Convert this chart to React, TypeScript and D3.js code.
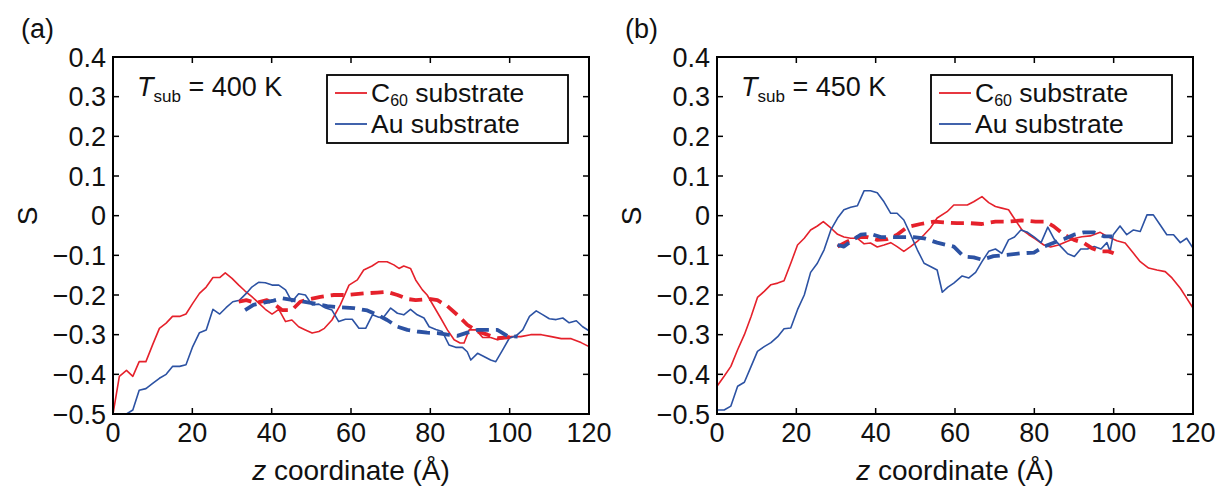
import React from "react";
import * as d3 from "d3";

// ---------- data ----------
const yTicks = [0.4, 0.3, 0.2, 0.1, 0, -0.1, -0.2, -0.3, -0.4, -0.5];
const xTicks = [0, 20, 40, 60, 80, 100, 120];
const panelLabels = ["(a)", "(b)"];
const tempLabels = ["400 K", "450 K"];
const legendLabels = ["substrate", "Au substrate"];

// Panel (a) T = 400 K
const zA_c60 = [0, 1.6, 3.4, 5, 6.6, 8.3, 10, 11.7, 13.4, 15, 16.8, 18.4, 20.1, 21.8, 23.5, 25.2, 26.9, 28.3, 30, 31.7, 33.3, 35, 36.7, 38.4, 40.1, 41.8, 43.5, 45.1, 46.8, 48.5, 50.2, 51.9, 53.3, 55.2, 57.3, 59.5, 61.6, 63.2, 65.3, 67, 69.1, 70.8, 72.1, 73.3, 75, 76.3, 78, 79.2, 80.9, 82.6, 84.3, 86, 87.5, 88.5, 89.8, 91.5, 93.2, 95.2, 96.9, 98.6, 100.3, 102.8, 105.3, 108, 110.5, 113, 115.5, 118, 120];
const sA_c60 = [-0.5, -0.405, -0.39, -0.405, -0.368, -0.368, -0.325, -0.284, -0.271, -0.254, -0.254, -0.248, -0.221, -0.196, -0.18, -0.156, -0.156, -0.144, -0.158, -0.175, -0.19, -0.204, -0.22, -0.236, -0.248, -0.236, -0.267, -0.263, -0.28, -0.288, -0.296, -0.292, -0.284, -0.263, -0.225, -0.175, -0.162, -0.137, -0.127, -0.116, -0.116, -0.124, -0.133, -0.127, -0.133, -0.162, -0.187, -0.2, -0.229, -0.258, -0.288, -0.313, -0.321, -0.321, -0.288, -0.288, -0.307, -0.307, -0.313, -0.309, -0.305, -0.305, -0.3, -0.3, -0.305, -0.31, -0.31, -0.32, -0.33];

const zA_au = [0, 3.4, 5, 6.6, 8.3, 10, 11.7, 13.4, 15, 16.8, 18.4, 20.1, 21.8, 23.5, 25.2, 26.9, 28.5, 30.2, 31.9, 33.6, 35, 36.7, 38.4, 40.1, 41.8, 43.5, 45.1, 46.8, 48.5, 50.2, 51.9, 53.6, 55.2, 56.9, 58.6, 60.3, 62, 63.7, 65.4, 67, 68.3, 70, 71.7, 73.3, 75, 76.7, 78.4, 79.7, 81.4, 83, 84.7, 86.4, 88.1, 89.3, 90.2, 91.9, 93.5, 95.2, 96.5, 98.2, 99.9, 101.6, 103.3, 105, 106.7, 108.4, 110, 111.7, 113.4, 115, 116.8, 118.4, 120];
const sA_au = [-0.5, -0.5, -0.49, -0.44, -0.436, -0.423, -0.41, -0.4, -0.38, -0.38, -0.376, -0.33, -0.295, -0.288, -0.236, -0.248, -0.232, -0.217, -0.213, -0.196, -0.18, -0.168, -0.169, -0.175, -0.175, -0.187, -0.217, -0.197, -0.2, -0.225, -0.223, -0.233, -0.238, -0.267, -0.261, -0.261, -0.284, -0.284, -0.25, -0.256, -0.255, -0.233, -0.246, -0.25, -0.236, -0.25, -0.258, -0.28, -0.287, -0.292, -0.326, -0.332, -0.332, -0.343, -0.364, -0.347, -0.355, -0.364, -0.368, -0.339, -0.309, -0.303, -0.288, -0.254, -0.24, -0.25, -0.26, -0.262, -0.258, -0.27, -0.265, -0.28, -0.29];

const zA_c60Avg = [31.7, 33.6, 36.1, 38.8, 40.9, 42.6, 45.1, 47.2, 49.8, 52.3, 55.7, 59, 63.3, 66.6, 69.1, 71.7, 74.2, 76.3, 79.7, 81.8, 84.3, 86.8, 89.3, 91.9, 94.4, 96.9, 99.4, 100.5];
const sA_c60Avg = [-0.217, -0.213, -0.22, -0.213, -0.225, -0.238, -0.238, -0.217, -0.21, -0.205, -0.2, -0.2, -0.196, -0.194, -0.192, -0.2, -0.21, -0.213, -0.21, -0.213, -0.228, -0.25, -0.275, -0.292, -0.3, -0.309, -0.307, -0.305];

const zA_auAvg = [33.3, 35.4, 38, 40.5, 42.6, 45.5, 48, 50.6, 54, 57.3, 60.7, 64.1, 66.6, 69.1, 71.7, 74.2, 76.7, 79.2, 81.8, 84.3, 86.8, 89.3, 91.9, 94.4, 96.9, 99.4, 102];
const sA_auAvg = [-0.238, -0.225, -0.219, -0.214, -0.208, -0.213, -0.217, -0.221, -0.228, -0.231, -0.233, -0.239, -0.25, -0.263, -0.28, -0.288, -0.292, -0.295, -0.296, -0.3, -0.303, -0.295, -0.288, -0.288, -0.288, -0.303, -0.305];

// Panel (b) T = 450 K
const zB_c60 = [0, 1.8, 3.5, 5.2, 6.9, 8.6, 10.2, 11.9, 13.6, 15.3, 16.9, 18.6, 20.3, 22, 23.6, 25.3, 26.8, 28.7, 30.4, 32, 33.7, 35.4, 37.1, 38.7, 40.4, 42.1, 43.8, 45.4, 47.1, 48.8, 50.5, 52.2, 53.8, 55.5, 58, 59.7, 61.4, 63.1, 64.7, 66.8, 68.5, 70.2, 71.8, 73.5, 75.2, 76.9, 78.6, 80.3, 82.4, 84.1, 86.1, 88.2, 90.3, 92, 94.1, 96.6, 98.7, 100.8, 102.9, 105, 106.7, 108.8, 110.9, 113, 114.7, 116.8, 118.4, 120];
const sB_c60 = [-0.43, -0.405, -0.38, -0.338, -0.3, -0.254, -0.206, -0.191, -0.174, -0.17, -0.164, -0.12, -0.074, -0.057, -0.036, -0.026, -0.015, -0.031, -0.047, -0.054, -0.057, -0.057, -0.071, -0.069, -0.079, -0.074, -0.068, -0.078, -0.09, -0.078, -0.065, -0.048, -0.031, -0.006, 0.01, 0.027, 0.027, 0.027, 0.035, 0.048, 0.033, 0.023, 0.019, 0.015, -0.011, -0.036, -0.048, -0.059, -0.074, -0.079, -0.074, -0.065, -0.057, -0.053, -0.051, -0.042, -0.054, -0.063, -0.069, -0.095, -0.116, -0.132, -0.137, -0.141, -0.157, -0.183, -0.208, -0.233];

const zB_au = [0, 1.8, 3.5, 5.2, 6.9, 8.6, 10.2, 11.9, 13.6, 15.3, 16.9, 18.6, 20.3, 22, 23.6, 25.3, 27, 28.7, 30.4, 32, 33.7, 35.4, 37.1, 38.7, 40.4, 42.1, 43.8, 45.4, 47.1, 48.8, 50.5, 52.2, 53.8, 55.5, 56.8, 58.2, 59.7, 61.8, 63.5, 65.2, 66.8, 68.5, 70.2, 71.8, 73.5, 75, 76.6, 78.3, 80, 81.7, 83.4, 85, 86.7, 88.4, 90.1, 91.7, 93.4, 95.1, 96.8, 98.3, 99.1, 99.9, 101.6, 103.3, 105, 106.7, 108.4, 110, 111.7, 113.4, 115.1, 116.8, 118.4, 120];
const sB_au = [-0.49, -0.49, -0.48, -0.43, -0.42, -0.38, -0.342, -0.33, -0.32, -0.305, -0.285, -0.283, -0.237, -0.2, -0.143, -0.12, -0.086, -0.036, -0.006, 0.015, 0.021, 0.025, 0.063, 0.063, 0.058, 0.035, 0.006, 0.006, -0.011, -0.048, -0.086, -0.12, -0.128, -0.137, -0.193, -0.18, -0.17, -0.152, -0.157, -0.143, -0.116, -0.09, -0.084, -0.095, -0.061, -0.054, -0.036, -0.042, -0.054, -0.068, -0.029, -0.059, -0.078, -0.096, -0.103, -0.084, -0.084, -0.078, -0.084, -0.068, -0.09, -0.048, -0.026, -0.048, -0.036, -0.04, 0.002, 0.002, -0.023, -0.048, -0.048, -0.068, -0.057, -0.082];

const zB_c60Avg = [30.4, 32.9, 35.4, 37.9, 40.4, 42.9, 45.4, 47.9, 51.3, 54.7, 57.2, 60.5, 63.9, 66.8, 70.2, 73.5, 76.9, 80.3, 82.8, 84.9, 87.5, 90, 92.5, 94.5, 96.6, 98.7, 100];
const sB_c60Avg = [-0.078, -0.065, -0.054, -0.054, -0.061, -0.059, -0.048, -0.029, -0.021, -0.015, -0.017, -0.019, -0.019, -0.021, -0.015, -0.015, -0.012, -0.015, -0.015, -0.027, -0.048, -0.061, -0.069, -0.082, -0.09, -0.09, -0.095];

const zB_auAvg = [30.4, 32, 33.7, 36.2, 38.7, 41.3, 43.8, 46.3, 49.6, 52.2, 55.5, 58, 59.7, 62.2, 64.7, 66.8, 69.7, 73.1, 76.5, 79.9, 82.4, 84.9, 87.5, 90, 92.5, 95, 97.5, 99.6];
const sB_auAvg = [-0.074, -0.078, -0.065, -0.048, -0.046, -0.054, -0.054, -0.054, -0.054, -0.057, -0.068, -0.074, -0.078, -0.103, -0.105, -0.111, -0.102, -0.099, -0.095, -0.093, -0.078, -0.068, -0.059, -0.048, -0.042, -0.042, -0.052, -0.052];

// ---------- styling ----------
const RED = "#e5212b";
const BLUE = "#2c52a3";
const FONT = "'Liberation Sans', Arial, Helvetica, sans-serif";

type Series = { z: number[]; s: number[]; color: string; dashed: boolean };

const panels: { series: Series[] }[] = [
  {
    series: [
      { z: zA_c60, s: sA_c60, color: RED, dashed: false },
      { z: zA_au, s: sA_au, color: BLUE, dashed: false },
      { z: zA_c60Avg, s: sA_c60Avg, color: RED, dashed: true },
      { z: zA_auAvg, s: sA_auAvg, color: BLUE, dashed: true },
    ],
  },
  {
    series: [
      { z: zB_c60, s: sB_c60, color: RED, dashed: false },
      { z: zB_au, s: sB_au, color: BLUE, dashed: false },
      { z: zB_c60Avg, s: sB_c60Avg, color: RED, dashed: true },
      { z: zB_auAvg, s: sB_auAvg, color: BLUE, dashed: true },
    ],
  },
];

const fmtY = (v: number) => {
  if (v === 0) return "0";
  const s = Math.abs(v).toFixed(1);
  return v < 0 ? "\u2212" + s : s;
};

function Panel({ idx, left }: { idx: number; left: number }) {
  const top = 57;
  const bottom = 414;
  const width = 476;
  const x = d3.scaleLinear().domain([0, 120]).range([left, left + width]);
  const y = d3.scaleLinear().domain([-0.5, 0.4]).range([bottom, top]);
  const tl = 6;
  const fs = 27;

  const lineGen = d3
    .line<[number, number]>()
    .x((d) => x(d[0]))
    .y((d) => y(d[1]));

  const legX = left + 214;
  const legW = 241;

  return (
    <g>
      <defs>
        <clipPath id={`clip${idx}`}>
          <rect x={left} y={top} width={width} height={bottom - top} />
        </clipPath>
      </defs>
      {/* data lines */}
      <g clipPath={`url(#clip${idx})`}>
        {panels[idx].series.map((se, i) => (
          <path
            key={i}
            d={lineGen(se.z.map((zz, k) => [zz, se.s[k]] as [number, number])) || ""}
            fill="none"
            stroke={se.color}
            strokeWidth={se.dashed ? 3.8 : 1.6}
            strokeDasharray={se.dashed ? "13 7" : undefined}
            strokeLinejoin="round"
          />
        ))}
      </g>
      {/* box */}
      <rect x={left} y={top} width={width} height={bottom - top} fill="none" stroke="#000" strokeWidth={2} />
      {/* y ticks */}
      {yTicks.map((t) => (
        <g key={"y" + t}>
          <line x1={left} x2={left + tl} y1={y(t)} y2={y(t)} stroke="#000" strokeWidth={1.5} />
          <line x1={left + width} x2={left + width - tl} y1={y(t)} y2={y(t)} stroke="#000" strokeWidth={1.5} />
          <text x={left - 7} y={y(t)} dy="0.36em" textAnchor="end" fontSize={fs} fontFamily={FONT} fill="#111">
            {fmtY(t)}
          </text>
        </g>
      ))}
      {/* x ticks */}
      {xTicks.map((t) => (
        <g key={"x" + t}>
          <line x1={x(t)} x2={x(t)} y1={bottom} y2={bottom - tl} stroke="#000" strokeWidth={1.5} />
          <line x1={x(t)} x2={x(t)} y1={top} y2={top + tl} stroke="#000" strokeWidth={1.5} />
          <text x={x(t)} y={bottom + 28} textAnchor="middle" fontSize={fs} fontFamily={FONT} fill="#111">
            {t}
          </text>
        </g>
      ))}
      {/* axis labels */}
      <text x={(left + left + width) / 2} y={480} textAnchor="middle" fontSize={28} fontFamily={FONT} fill="#111">
        <tspan fontStyle="italic">z</tspan> coordinate (Å)
      </text>
      <text
        transform={`translate(${left - 86},${216}) rotate(-90)`}
        textAnchor="middle"
        dy="0.36em"
        fontSize={28}
        fontFamily={FONT}
        fill="#111"
      >
        S
      </text>
      {/* panel label */}
      <text x={left - 92} y={38} fontSize={27} fontFamily={FONT} fill="#111">
        {panelLabels[idx]}
      </text>
      {/* T_sub */}
      <text x={left + 24} y={96} fontSize={27} fontFamily={FONT} fill="#111">
        <tspan fontStyle="italic">T</tspan>
        <tspan fontSize={17} dy={6}>sub</tspan>
        <tspan dy={-6}> = {tempLabels[idx]}</tspan>
      </text>
      {/* legend */}
      <rect x={legX} y={75} width={legW} height={68} fill="#fff" stroke="#000" strokeWidth={1.8} />
      <line x1={legX + 8} x2={legX + 40} y1={93} y2={93} stroke={RED} strokeWidth={1.8} />
      <line x1={legX + 8} x2={legX + 40} y1={124} y2={124} stroke={BLUE} strokeWidth={1.8} />
      <text x={legX + 44} y={102} fontSize={26.5} fontFamily={FONT} fill="#111">
        C<tspan fontSize={16} dy={4}>60</tspan>
        <tspan dy={-4}> {legendLabels[0]}</tspan>
      </text>
      <text x={legX + 44} y={133} fontSize={26.5} fontFamily={FONT} fill="#111">
        {legendLabels[1]}
      </text>
    </g>
  );
}

export default function App() {
  return (
    <svg
      width={1215}
      height={489}
      style={{ position: "absolute", left: 0, top: 0, background: "#fff" }}
      xmlns="http://www.w3.org/2000/svg"
    >
      <rect x={0} y={0} width={1215} height={489} fill="#fff" />
      <Panel idx={0} left={113} />
      <Panel idx={1} left={717} />
    </svg>
  );
}
